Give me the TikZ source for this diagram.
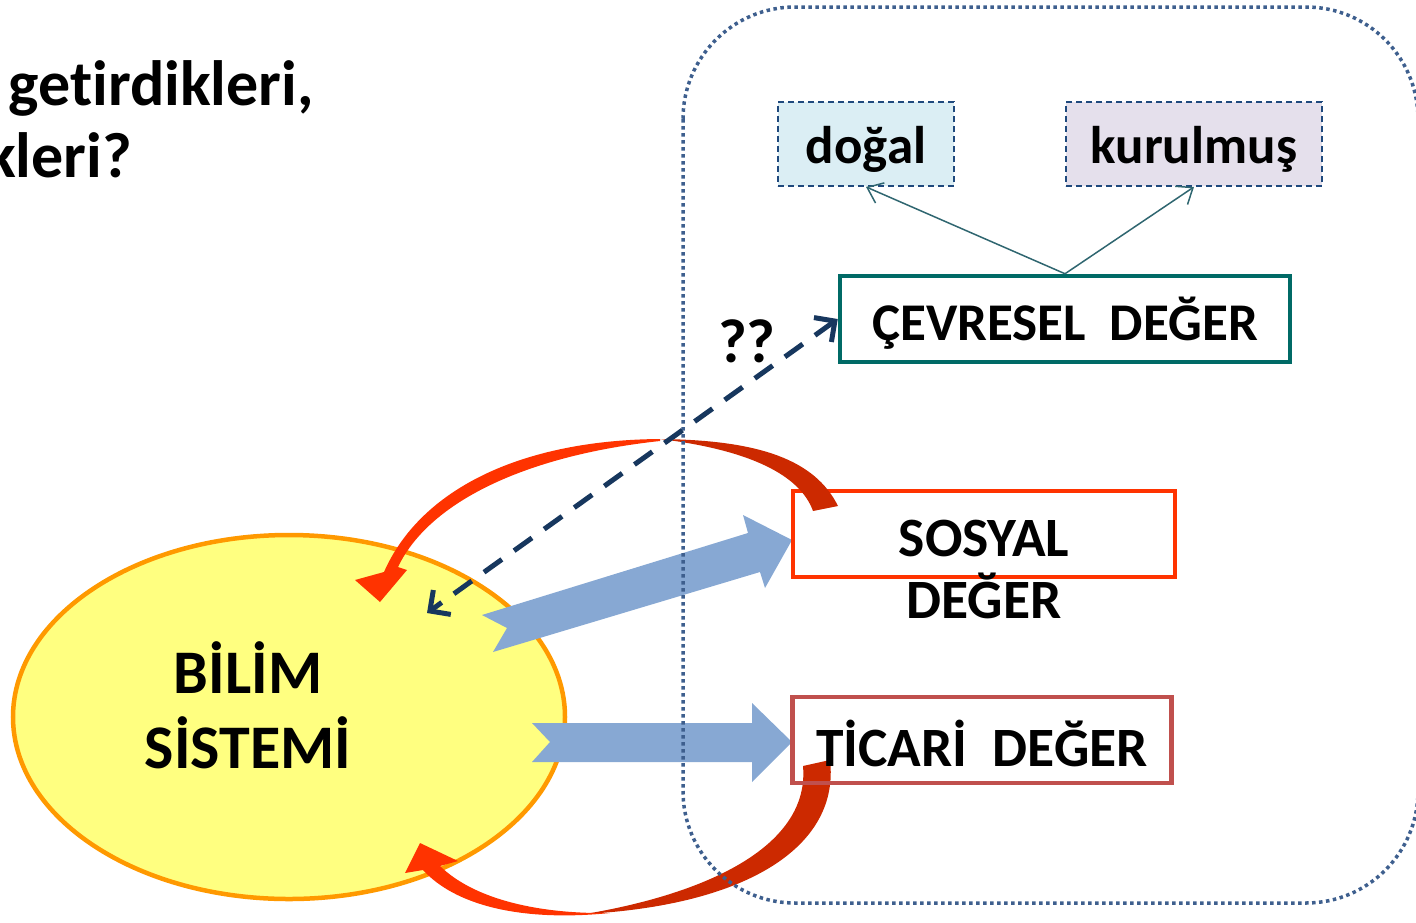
\documentclass[tikz,border=0pt]{standalone}
\usepackage{fontspec}
\setmainfont{Carlito}[Ligatures=NoCommon]
\usetikzlibrary{shapes.geometric,arrows.meta,positioning}

\definecolor{ellfill}{HTML}{FFFF80}
\definecolor{ellline}{HTML}{FF9900}
\definecolor{arrowblue}{HTML}{87A8D3}
\definecolor{redlight}{HTML}{FF3300}
\definecolor{reddark}{HTML}{CC2900}
\definecolor{sosline}{HTML}{FF3300}
\definecolor{ticline}{HTML}{C0504D}
\definecolor{cevline}{HTML}{006A66}
\definecolor{frameblue}{HTML}{3E5F8E}
\definecolor{dogalfill}{HTML}{DBEEF4}
\definecolor{kurfill}{HTML}{E5E0EC}
\definecolor{dashline}{HTML}{1F497D}
\definecolor{thinteal}{HTML}{2F6670}
\definecolor{navy}{HTML}{17375E}

\tikzset{
  boxtxt/.style={font=\bfseries\fontsize{53}{60}\selectfont, inner sep=0pt, text height=42pt, text depth=0pt},
  largetxt/.style={font=\bfseries\fontsize{55.5}{62}\selectfont},
  degerbox/.style={boxtxt, draw, line width=4.5pt, minimum height=86pt},
  altbox/.style={boxtxt, draw=dashline, line width=1.8pt, dash pattern=on 6pt off 4pt, minimum height=84pt, text height=38pt},
  bigtxt/.style={font=\bfseries\fontsize{62}{75}\selectfont, align=center, inner sep=0pt},
  toptxt/.style={font=\bfseries\fontsize{64}{72}\selectfont, inner sep=0pt},
  thinarrow/.style={draw=thinteal, line width=1.5pt, -{Straight Barb[length=14pt,width=22pt]}},
  qarrow/.style={draw=navy, line width=5pt, dash pattern=on 22pt off 15pt,
    {Straight Barb[length=15pt,width=30pt]}-{Straight Barb[length=15pt,width=30pt]}},
  fatarrow/.style={fill=arrowblue},
}

\begin{document}
\begin{tikzpicture}[x=1pt, y=-1pt]
    \useasboundingbox (0,0) rectangle (1416,922);

    % Soru
    \node[toptxt, anchor=base east] (soru1) at (314,105) {getirdikleri,};
    \node[toptxt, anchor=base east] (soru2) at (132,177) {kleri?};

    % Bilim sistemi
    \node[ellipse, draw=ellline, fill=ellfill, line width=4.5pt, inner sep=0pt,
          minimum width=552pt, minimum height=364pt] (bilim) at (289,717) {};
    \node[bigtxt] (bilimtxt) at (248,705) {BİLİM\\SİSTEMİ};

    % Kalin oklar
    \fill[fatarrow] (482,615) -- (507,628) -- (493,652) -- (760,572) -- (765,588)
        -- (792,540) -- (743,515) -- (748,533) -- cycle;
    \fill[fatarrow] (532,723) -- (550,742) -- (532,762) -- (752,762) -- (752,782)
        -- (792,742) -- (752,703) -- (752,723) -- cycle;

    % Sosyal deger
    \node[degerbox, largetxt, draw=sosline, minimum width=382pt, text height=44pt] (sosyal) at (984,534) {SOSYAL};
    \node[boxtxt, largetxt, anchor=base] (sosyal2) at ([yshift=-62pt]sosyal.base) {DEĞER};

    % Donen oklar
    \fill[reddark] (838,506) .. controls (815,460) and (760,440) .. (660,439)
        .. controls (750,450) and (800,475) .. (813,511) -- cycle;
    \fill[redlight] (660,439) .. controls (520,440) and (420,490) .. (384,572)
        -- (355,580) -- (380,602) -- (407,570) -- (398,567)
        .. controls (430,500) and (530,455) .. (660,441) -- cycle;
    \fill[reddark] (803,766) -- (830,760) .. controls (840,845) and (750,905) .. (585,914)
        .. controls (710,893) and (810,845) .. (803,766) -- cycle;
    \fill[redlight] (610,913) .. controls (520,922) and (455,905) .. (423,870)
        -- (405,873) -- (420,843) -- (458,861) -- (440,866)
        .. controls (475,900) and (540,914) .. (610,913) -- cycle;

    % Ticari deger
    \node[degerbox, largetxt, draw=ticline, minimum width=379pt, text height=52pt] (ticari) at (982,740) {TİCARİ~~DEĞER};

    % Cevresel deger
    \node[degerbox, draw=cevline, minimum width=450pt] (cevre) at (1065,319) {ÇEVRESEL~~DEĞER};
    \node[altbox, fill=dogalfill, minimum width=176pt] (dogal) at (866,144) {doğal};
    \node[altbox, fill=kurfill, minimum width=256pt] (kurulmus) at (1194,144) {kurulmuş};
    \draw[thinarrow] (cevre.north) -- (dogal.south);
    \draw[thinarrow] (cevre.north) -- (kurulmus.south);

    % Cerceve
    \draw[frameblue, line width=3.5pt, dash pattern=on 3.5pt off 3.5pt, rounded corners=112pt]
        (683,7) rectangle (1418,903);

    % Belirsiz iliski
    \coordinate (bilimuc) at (427,613);
    \draw[qarrow] (cevre.west) -- (bilimuc);
    \node[font=\bfseries\fontsize{62}{66}\selectfont, inner sep=0pt] (qq) at (747,341) {??};
\end{tikzpicture}
\end{document}
